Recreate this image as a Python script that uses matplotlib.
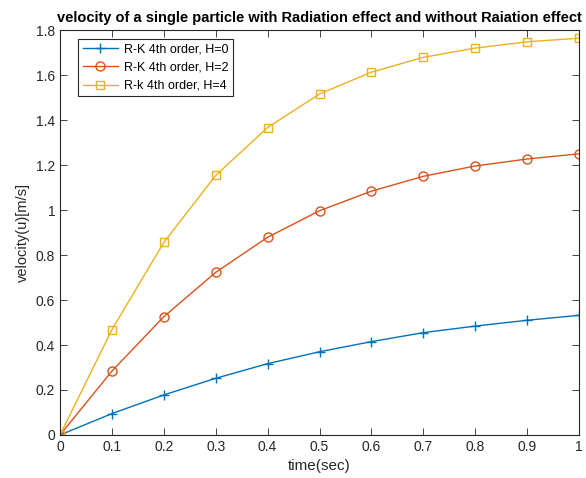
import matplotlib
matplotlib.use('Agg')
import matplotlib.pyplot as plt
import numpy as np

t = [0, 0.1, 0.2, 0.3, 0.4, 0.5, 0.6, 0.7, 0.8, 0.9, 1.0]
u_h0 = [0, 0.095, 0.178, 0.252, 0.317, 0.370, 0.415, 0.455, 0.484, 0.510, 0.532]
u_h2 = [0, 0.284, 0.526, 0.723, 0.879, 0.997, 1.084, 1.150, 1.196, 1.227, 1.250]
u_h4 = [0, 0.468, 0.856, 1.154, 1.367, 1.516, 1.613, 1.679, 1.720, 1.748, 1.764]

xtick_vals = [0, 0.1, 0.2, 0.3, 0.4, 0.5, 0.6, 0.7, 0.8, 0.9, 1]
xtick_labels = ['0', '0.1', '0.2', '0.3', '0.4', '0.5', '0.6', '0.7', '0.8', '0.9', '1']
ytick_vals = [0, 0.2, 0.4, 0.6, 0.8, 1.0, 1.2, 1.4, 1.6, 1.8]
ytick_labels = ['0', '0.2', '0.4', '0.6', '0.8', '1', '1.2', '1.4', '1.6', '1.8']

plt.rcParams['font.family'] = ['Liberation Sans', 'DejaVu Sans']
fig = plt.figure(figsize=(5.86, 4.78), dpi=100)
ax = fig.add_axes([0.1024, 0.09, 0.8857, 0.847])

ax.plot(t, u_h0, color='#0072BD', marker='+', markersize=7, lw=1, label='R-K 4th order, H=0')
ax.plot(t, u_h2, color='#D95319', marker='o', markersize=6.5, mfc='none', lw=1, label='R-K 4th order, H=2')
ax.plot(t, u_h4, color='#EDB120', marker='s', markersize=5.5, mfc='none', lw=1, label='R-k 4th order, H=4')

ax.set_xlim(0, 1)
ax.set_ylim(0, 1.8)
ax.set_xticks(xtick_vals)
ax.set_xticklabels(xtick_labels)
ax.set_yticks(ytick_vals)
ax.set_yticklabels(ytick_labels)
ax.tick_params(direction='in', top=True, right=True, labelsize=10, length=5, width=0.6, colors='#262626')
for s in ax.spines.values():
    s.set_linewidth(0.8)
    s.set_color('#262626')

ax.set_xlabel('time(sec)', fontsize=11, color='#262626')
ax.set_ylabel('velocity(u)[m/s]', fontsize=10.5, color='#262626')
ax.set_title('velocity of a single particle with Radiation effect and without Raiation effect',
             fontsize=10.5, fontweight='bold', pad=6)

leg = ax.legend(loc='upper left', bbox_to_anchor=(0.035, 0.978), fontsize=9, fancybox=False,
                edgecolor='#262626', framealpha=1, handlelength=2.8, handletextpad=0.5,
                borderpad=0.35, labelspacing=0.5, borderaxespad=0)
leg.get_frame().set_linewidth(0.8)

plt.savefig('out.png', dpi=100)
